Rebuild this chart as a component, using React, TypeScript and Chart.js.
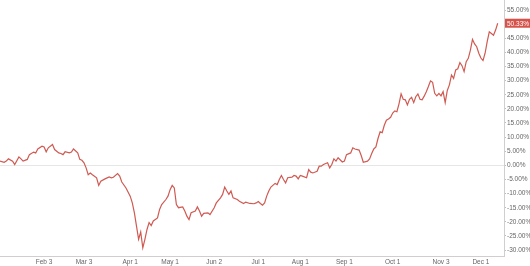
import React, { useEffect, useRef } from "react";
import { Chart, registerables } from "chart.js";

Chart.register(...registerables);

// Trading-day index since the first session of the year
const tradingDay = [
  0, 2, 3, 4, 6, 7, 9, 10, 11, 13, 14, 16, 17, 18, 20, 21, 22, 23, 25, 26,
  28, 29, 30, 31, 33, 34, 35, 37, 38, 39, 40, 41, 42, 43, 44, 46, 47, 48, 50, 52,
  53, 54, 56, 57, 58, 60, 62, 63, 64, 65, 66, 67, 68, 69, 70, 71, 72, 73, 75, 76,
  77, 79, 80, 81, 82, 83, 84, 85, 87, 88, 89, 90, 91, 93, 94, 95, 96, 97, 99, 100,
  102, 103, 105, 106, 107, 108, 109, 110, 111, 113, 114, 116, 117, 119, 121, 122, 123, 124, 125, 126,
  127, 128, 129, 131, 132, 133, 134, 135, 136, 137, 139, 140, 141, 142, 143, 144, 146, 147, 148, 149,
  151, 152, 153, 154, 156, 157, 158, 159, 160, 161, 163, 164, 165, 167, 168, 169, 171, 172, 173, 175,
  176, 177, 178, 179, 180, 181, 182, 183, 184, 185, 186, 187, 188, 189, 190, 191, 192, 193, 194, 195,
  196, 197, 198, 199, 200, 201, 202, 203, 204, 205, 206, 207, 208, 209, 210, 211, 212, 213, 214, 215,
  216, 217, 218, 219, 220, 221, 222, 223, 224, 225, 226, 227, 228, 229, 230, 231, 232, 233, 234, 235,
  236, 237,
];

// Year-to-date return, %
const ytdReturn = [
  1.5, 1.1, 1.5, 2.3, 1.5, 0.3, 3.0, 2.3, 1.5, 2.1, 3.8, 4.7, 4.4, 5.8, 6.8, 6.5, 4.8, 6.2, 7.4, 5.6,
  4.4, 4.2, 3.8, 4.8, 4.4, 4.7, 5.8, 4.4, 2.1, 1.8, 0.9, -0.9, -3.3, -2.7, -3.3, -4.4, -7.1, -5.6, -4.8, -4.1,
  -4.4, -4.2, -2.9, -3.8, -5.9, -8.0, -10.9, -13.3, -16.8, -21.5, -26.2, -23.6, -29.2, -26.2, -22.7, -20.3, -21.3, -19.7, -18.6, -15.6,
  -13.9, -12.1, -10.9, -8.6, -7.1, -8.0, -13.9, -15.0, -14.7, -16.2, -18.0, -19.2, -16.8, -16.2, -14.7, -16.2, -18.0, -17.0, -16.8, -17.4,
  -15.0, -13.3, -11.5, -10.3, -7.7, -9.1, -10.3, -9.1, -11.5, -12.1, -12.7, -13.5, -13.0, -13.5, -13.6, -13.3, -12.8, -13.5, -14.1, -13.3,
  -10.9, -9.1, -7.7, -6.4, -6.8, -5.0, -3.6, -5.0, -6.2, -4.4, -4.2, -3.6, -3.8, -4.8, -3.6, -3.8, -4.4, -1.5, -2.4, -2.7,
  -2.1, -0.3, -0.3, 0.3, 0.9, -0.9, 0.3, 2.3, 1.5, 2.7, 1.2, 1.5, 3.8, 4.4, 6.2, 5.8, 5.4, 3.5, 1.1, 1.5,
  2.3, 4.2, 5.8, 6.5, 9.5, 11.9, 11.6, 14.2, 16.0, 16.4, 17.0, 18.5, 19.3, 19.0, 21.8, 25.3, 23.4, 23.2, 21.4, 23.4,
  24.1, 22.2, 24.3, 25.3, 23.4, 23.2, 24.5, 26.1, 27.9, 29.9, 29.4, 25.5, 24.6, 25.5, 24.6, 26.1, 22.2, 26.5, 28.5, 32.0,
  30.8, 33.8, 34.2, 36.4, 35.3, 33.2, 36.7, 37.9, 40.8, 44.6, 43.0, 42.0, 39.7, 38.0, 37.1, 39.7, 43.8, 47.3, 46.7, 46.1,
  47.9, 50.33,
];

const monthTickDays = [21, 40, 62, 81, 102, 123, 143, 164, 187, 210, 229];
const monthTickLabels = ["Feb 3", "Mar 3", "Apr 1", "May 1", "Jun 2", "Jul 1", "Aug 1", "Sep 1", "Oct 1", "Nov 3", "Dec 1"];

const LINE = "#cf5a52";
const FONT = "'Liberation Sans', Arial, Helvetica, sans-serif";

export default function App() {
  const ref = useRef<HTMLCanvasElement | null>(null);

  useEffect(() => {
    if (!ref.current) return;
    const lastLabel = {
      id: "lastLabel",
      afterDraw(chart: any) {
        const ctx = chart.ctx;
        const y = chart.scales.y;
        const last = ytdReturn[ytdReturn.length - 1];
        const py = y.getPixelForValue(last);
        const left = chart.chartArea.right + 1;
        const w = chart.width - left;
        ctx.save();
        ctx.fillStyle = "#d6534b";
        ctx.fillRect(left, py - 4.5, w, 9);
        ctx.fillStyle = "#ffffff";
        ctx.font = `6.5px ${FONT}`;
        ctx.textBaseline = "middle";
        ctx.textAlign = "left";
        ctx.fillText(last.toFixed(2) + "%", left + 2, py + 0.5);
        ctx.restore();
      },
    };

    const chart = new Chart(ref.current, {
      type: "line",
      data: {
        datasets: [
          {
            data: tradingDay.map((d, i) => ({ x: d, y: ytdReturn[i] })),
            borderColor: LINE,
            borderWidth: 1.2,
            pointRadius: 0,
            tension: 0,
            fill: false,
          },
        ],
      },
      options: {
        animation: false,
        responsive: true,
        maintainAspectRatio: false,
        layout: { padding: 0 },
        plugins: { legend: { display: false }, tooltip: { enabled: false } },
        scales: {
          x: {
            type: "linear",
            min: 0,
            max: 240,
            grid: { display: false, drawTicks: false },
            border: { display: true, color: "#cfcfcf" },
            afterBuildTicks: (scale: any) => {
              scale.ticks = monthTickDays.map((v) => ({ value: v }));
            },
            afterFit: (scale: any) => {
              scale.height = 10;
              scale.paddingLeft = 0;
              scale.paddingRight = 0;
            },
            ticks: {
              autoSkip: false,
              maxRotation: 0,
              padding: 2,
              color: "#666",
              font: { size: 6.5, family: FONT },
              callback: (_v: any, i: number) => monthTickLabels[i] ?? "",
            },
          },
          y: {
            position: "right",
            min: -32.1,
            max: 58.55,
            grid: {
              color: (c: any) => (c.tick && c.tick.value === 0 ? "#e6e6e6" : "rgba(0,0,0,0)"),
              tickColor: "#bdbdbd",
              tickLength: 2,
              drawOnChartArea: true,
            },
            border: { display: true, color: "#cfcfcf" },
            afterFit: (scale: any) => {
              scale.width = 26;
              scale.paddingTop = 0;
              scale.paddingBottom = 0;
            },
            ticks: {
              stepSize: 5,
              includeBounds: false,
              padding: 1,
              color: "#666",
              font: { size: 6.5, family: FONT },
              callback: (v: any) => Number(v).toFixed(2) + "%",
            },
          },
        },
      },
      plugins: [lastLabel],
    });
    return () => chart.destroy();
  }, []);

  return (
    <div style={{ position: "fixed", left: 0, top: 0, width: 530, height: 266, background: "#fff" }}>
      <canvas ref={ref} />
    </div>
  );
}
